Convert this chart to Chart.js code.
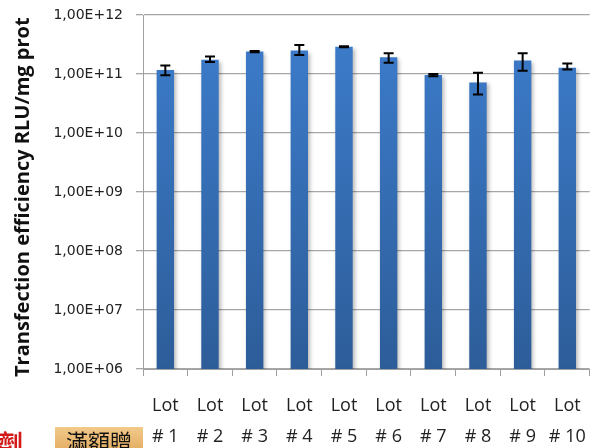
<!DOCTYPE html>
<html>
<head>
<meta charset="utf-8">
<script src="https://cdn.jsdelivr.net/npm/chart.js@4"></script>
<style>
  html, body { margin: 0; padding: 0; background: #fff; }
  #wrap { position: relative; width: 601px; height: 448px; overflow: hidden; }
  #promo-red { position: absolute; left: -4px; top: 424px; font: bold 27px "Noto Sans CJK TC"; color: #d21a1a; }
  #promo-box { position: absolute; left: 55px; top: 427px; width: 88px; height: 24px;
    background: linear-gradient(#f2c98a, #e3ad62); font: 22px "Noto Sans CJK TC"; color: #111;
    text-align: center; line-height: 26px; }
</style>
</head>
<body>
<div id="wrap">
  <canvas id="chart" width="601" height="448"></canvas>
  <div id="promo-red">劑</div>
  <div id="promo-box">滿額贈</div>
</div>
<script>
// Transfection efficiency per lot (log scale)
const lots = [['Lot', '# 1'], ['Lot', '# 2'], ['Lot', '# 3'], ['Lot', '# 4'], ['Lot', '# 5'],
              ['Lot', '# 6'], ['Lot', '# 7'], ['Lot', '# 8'], ['Lot', '# 9'], ['Lot', '# 10']];
const efficiency = [1.17e11, 1.74e11, 2.4e11, 2.5e11, 2.9e11, 1.93e11, 0.96e11, 7.2e10, 1.69e11, 1.28e11];
const errLow =     [0.95e11, 1.59e11, 2.33e11, 2.1e11, 2.84e11, 1.55e11, 0.92e11, 4.5e10, 1.14e11, 1.19e11];
const errHigh =    [1.4e11, 1.98e11, 2.45e11, 3.1e11, 2.95e11, 2.25e11, 1.0e11, 1.05e11, 2.24e11, 1.5e11];
const yExponents = [6, 7, 8, 9, 10, 11, 12];

// bar shadow + error bars
const errorBars = {
    id: 'errorBars',
    beforeDatasetsDraw(chart) {
        const ctx = chart.ctx;
        ctx.save();
        ctx.shadowColor = 'rgba(0,0,0,0.28)';
        ctx.shadowBlur = 4;
        ctx.shadowOffsetX = 2;
        ctx.shadowOffsetY = 2;
    },
    afterDatasetsDraw(chart) {
        const ctx = chart.ctx;
        ctx.restore();
        const x = chart.scales.x, y = chart.scales.y;
        ctx.save();
        ctx.strokeStyle = '#000';
        ctx.lineWidth = 2;
        errLow.forEach((lo, i) => {
            const cx = x.getPixelForValue(i);
            const y1 = y.getPixelForValue(lo);
            const y2 = y.getPixelForValue(errHigh[i]);
            ctx.beginPath();
            ctx.moveTo(cx, y1); ctx.lineTo(cx, y2);
            ctx.moveTo(cx - 5, y1); ctx.lineTo(cx + 5, y1);
            ctx.moveTo(cx - 5, y2); ctx.lineTo(cx + 5, y2);
            ctx.stroke();
        });
        ctx.restore();
    }
};

function barGradient(context) {
    const area = context.chart.chartArea;
    if (!area) return '#3a78c8';
    const g = context.chart.ctx.createLinearGradient(0, area.top, 0, area.bottom);
    g.addColorStop(0, '#3d7dcd');
    g.addColorStop(1, '#2d5d99');
    return g;
}

new Chart(document.getElementById('chart'), {
    type: 'bar',
    data: {
        labels: lots,
        datasets: [{
            data: efficiency,
            backgroundColor: barGradient,
            barPercentage: 0.39,
            categoryPercentage: 1
        }]
    },
    options: {
        responsive: false,
        animation: false,
        layout: { padding: { top: 15, right: 5, left: 0, bottom: 0 } },
        plugins: { legend: { display: false }, tooltip: { enabled: false } },
        scales: {
            x: {
                grid: { drawOnChartArea: false, color: '#a0a0a0', tickLength: 7, offset: true },
                border: { color: '#a0a0a0' },
                ticks: {
                    color: '#222',
                    font: { family: 'Open Sans', size: 18, lineHeight: 1.7 },
                    maxRotation: 0, autoSkip: false, padding: 15
                },
                afterFit(scale) { scale.height = 79; }
            },
            y: {
                type: 'logarithmic',
                min: 1e6,
                max: 1e12,
                afterBuildTicks(scale) {
                    scale.ticks = yExponents.map(e => ({ value: Math.pow(10, e), major: true }));
                },
                grid: { color: '#a6a6a6', lineWidth: 1.3, tickLength: 7 },
                border: { color: '#a0a0a0' },
                ticks: {
                    color: '#222',
                    font: { family: 'DejaVu Sans', size: 14 },
                    padding: 13,
                    callback(v) {
                        const e = Math.round(Math.log10(v));
                        return '1,00E+' + String(e).padStart(2, '0');
                    }
                },
                title: {
                    display: true,
                    text: 'Transfection efficiency RLU/mg prot  ',
                    color: '#111',
                    font: { family: 'Open Sans', size: 20, weight: 'bold' },
                    padding: { top: 11, bottom: 0 }
                },
                afterFit(scale) {
                    scale.width = 143;
                    scale.paddingTop = 0;
                    scale.paddingBottom = 0;
                }
            }
        }
    },
    plugins: [errorBars]
});
</script>
</body>
</html>
